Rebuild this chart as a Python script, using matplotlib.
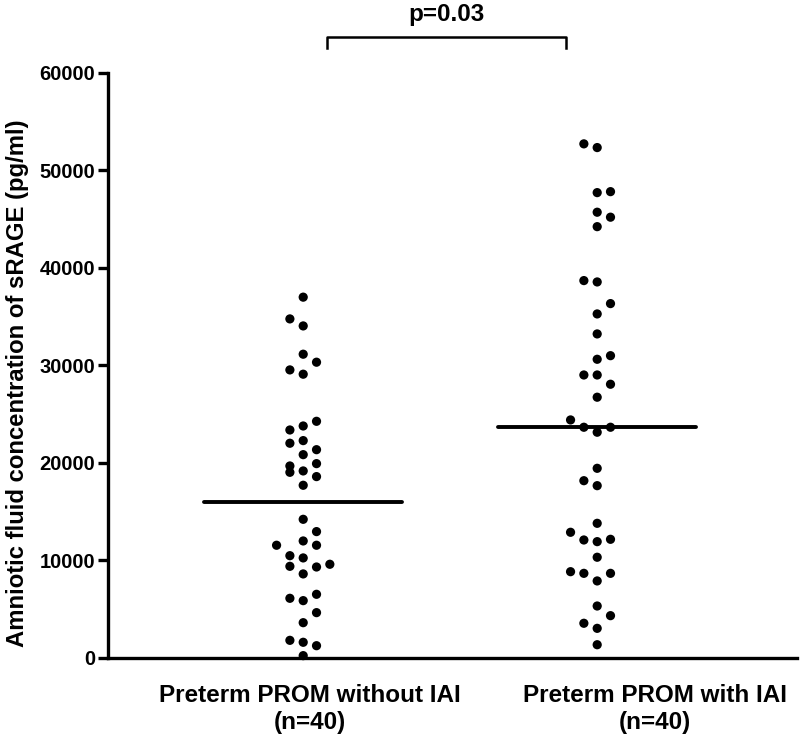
import matplotlib
matplotlib.use('Agg')
import matplotlib.pyplot as plt
import matplotlib.transforms as mtransforms
import numpy as np

plt.rcParams['font.family'] = ['Liberation Sans', 'DejaVu Sans']

# ------------------------------------------------------------
# DATA (pg/ml)
# ------------------------------------------------------------
group_names = ['Preterm PROM without IAI\n(n=40)', 'Preterm PROM with IAI\n(n=40)']

no_iai = [37000, 34770, 34050, 31150, 30330, 29540, 29100, 24270, 23790, 23380,
          22290, 22020, 21360, 20850, 19930, 19690, 19180, 19040, 18600, 17710,
          14220, 12960, 12000, 11560, 11560, 10490, 10260, 9610, 9400, 9330,
          8620, 6530, 6120, 5880, 4650, 3620, 1810, 1610, 1260, 240]
# column slot of each dot in the dot plot (left/right of group centre)
no_iai_slot = [0, -1, 0, 0, 1, -1, 0, 1, 0, -1,
               0, -1, 1, 0, 1, -1, 0, -1, 1, 0,
               0, 1, 0, -2, 1, -1, 0, 2, -1, 1,
               0, 1, -1, 0, 1, 0, -1, 0, 1, 0]

with_iai = [52720, 52340, 47820, 47720, 45710, 45200, 44230, 38700, 38560, 36340,
            35280, 33230, 31000, 30630, 29020, 29020, 28070, 26740, 24410, 23660,
            23660, 23150, 19450, 18180, 17670, 13810, 12890, 12100, 11930, 12170,
            10330, 8850, 8680, 8680, 7900, 5330, 4340, 3560, 3040, 1360]
with_iai_slot = [-1, 0, 1, 0, 0, 1, 0, -1, 0, 1,
                 0, 0, 1, 0, -1, 0, 1, 0, -2, -1,
                 1, 0, 0, -1, 0, 0, -2, -1, 0, 1,
                 0, -2, -1, 1, 0, 0, 1, -1, 0, 0]

p_text = 'p=0.03'

# ------------------------------------------------------------
# FIGURE
# ------------------------------------------------------------
fig = plt.figure(figsize=(8, 7.36), dpi=100)
ax = fig.add_axes([0.135, 0.106, 0.861, 0.795])

slot_w = 0.0453
groups = [(no_iai, no_iai_slot), (with_iai, with_iai_slot)]
for gi, (vals, slots) in enumerate(groups):
    xs = gi + np.array(slots) * slot_w
    ax.scatter(xs, vals, s=44, color='black', edgecolor='none', zorder=3, clip_on=False)
    med = np.median(vals)
    ax.plot([gi - 0.337, gi + 0.337], [med, med], color='black', lw=2.8,
            solid_capstyle='round', zorder=2)

ax.set_xlim(-0.664, 1.679)
ax.set_ylim(0, 60000)
ax.set_yticks(np.arange(0, 60001, 10000))
ax.set_yticklabels([str(v) for v in range(0, 60001, 10000)], fontweight='bold', fontsize=14.5)
ax.set_xticks([])

for s in ['top', 'right']:
    ax.spines[s].set_visible(False)
for s in ['left', 'bottom']:
    ax.spines[s].set_linewidth(2.4)
ax.tick_params(axis='y', width=2.4, length=7, pad=2)

ax.set_ylabel('Amniotic fluid concentration of sRAGE (pg/ml)', fontsize=17.2,
              fontweight='bold', va='center')
ax.yaxis.set_label_coords(-0.131, 0.47)

# group labels under the axis
trans = mtransforms.blended_transform_factory(ax.transData, ax.transAxes)
label_x = [0.022, 1.196]
for lx, name in zip(label_x, group_names):
    ax.text(lx, -0.045, name, transform=trans, ha='center', va='top',
            fontsize=17.5, fontweight='bold', linespacing=1.2)

# significance bracket
yb, yt = 63700, 62600
ax.plot([0.08, 0.08, 0.893, 0.893], [yt, yb, yb, yt], color='black', lw=1.8, clip_on=False)
ax.text(0.487, 66000, p_text, ha='center', va='center', fontsize=17.5, fontweight='bold')

fig.savefig('out.png', dpi=100)
